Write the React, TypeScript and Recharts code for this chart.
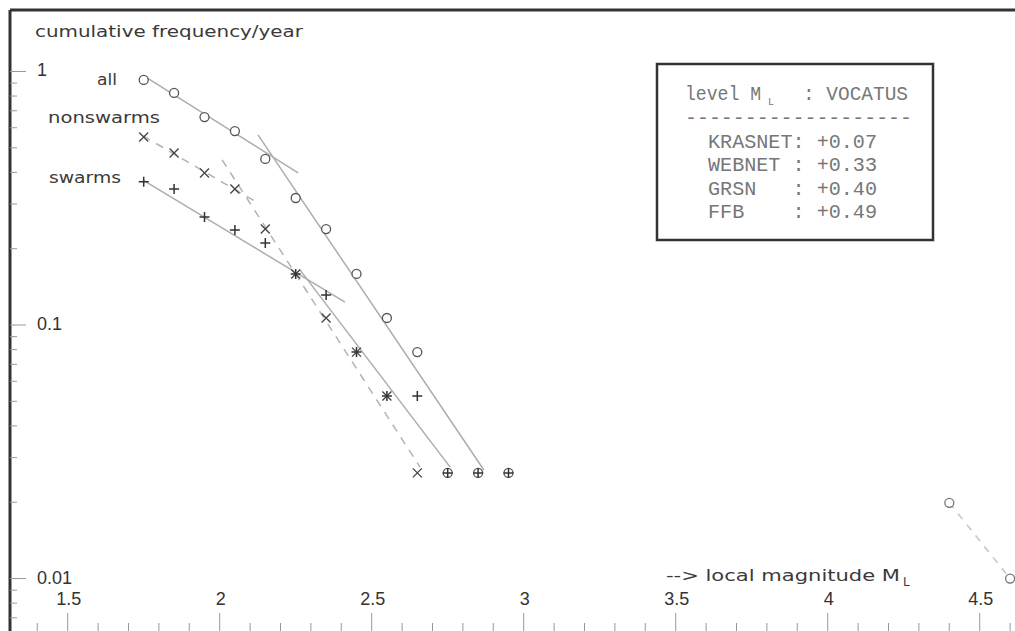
import React from 'react';
import { ScatterChart, Scatter, XAxis, YAxis, ReferenceLine } from 'recharts';

// magnitude classes (M_L) and cumulative frequency per year
const magnitudes = [1.75, 1.85, 1.95, 2.05, 2.15, 2.25, 2.35, 2.45, 2.55, 2.65, 2.75, 2.85, 2.95];
const allFreq = [0.926, 0.823, 0.661, 0.582, 0.452, 0.317, 0.239, 0.159, 0.1066, 0.0782, 0.0261, 0.0261, 0.0261];
const nonswarmFreq = [0.552, 0.477, 0.398, 0.344, 0.239, 0.159, 0.1066, 0.0782, 0.0525, 0.0261];
const swarmFreq = [0.367, 0.344, 0.267, 0.237, 0.2106, 0.159, 0.1313, 0.0782, 0.0525, 0.0525, 0.0261, 0.0261, 0.0261];

const strongMag = [4.4, 4.6];
const strongFreq = [0.0199, 0.01];

// fitted straight lines (end points)
const allFitLowMag = [1.761, 2.258];
const allFitLowFreq = [0.943, 0.398];
const allFitHighMag = [2.126, 2.869];
const allFitHighFreq = [0.562, 0.0268];
const swarmFitLowMag = [1.748, 2.412];
const swarmFitLowFreq = [0.373, 0.123];
const swarmFitHighMag = [2.264, 2.758];
const swarmFitHighFreq = [0.165, 0.0275];
const nonswarmFitLowMag = [1.748, 2.126];
const nonswarmFitLowFreq = [0.557, 0.303];
const nonswarmFitHighMag = [2.008, 2.659];
const nonswarmFitHighFreq = [0.448, 0.0275];

const xTicks = [1.4, 1.5, 1.6, 1.7, 1.8, 1.9, 2.0, 2.1, 2.2, 2.3, 2.4, 2.5, 2.6, 2.7, 2.8, 2.9, 3.0, 3.1, 3.2,
  3.3, 3.4, 3.5, 3.6, 3.7, 3.8, 3.9, 4.0, 4.1, 4.2, 4.3, 4.4, 4.5, 4.6];
const xMajor = [1.5, 2, 2.5, 3, 3.5, 4, 4.5];
const xMajorLabels = ['1.5', '2', '2.5', '3', '3.5', '4', '4.5'];

const yTicks = [0.007, 0.008, 0.009, 0.01, 0.02, 0.03, 0.04, 0.05, 0.06, 0.07, 0.08, 0.09,
  0.1, 0.2, 0.3, 0.4, 0.5, 0.6, 0.7, 0.8, 0.9, 1];
const yMajor = [0.01, 0.1, 1];
const yMajorLabels = ['0.01', '0.1', '1'];

const legendRows = ['KRASNET: +0.07', 'WEBNET : +0.33', 'GRSN   : +0.40', 'FFB    : +0.49'];

const X_MIN = 1.3102;
const X_MAX = 4.6161;
const Y_MIN = 0.00621;
const Y_MAX = 1.748;

const W = 1015;
const H = 631;

const pts = (xs: number[], ys: number[]) => ys.map((y, i) => ({ x: xs[i], y }));

const tickFont = '"Liberation Sans", Arial, sans-serif';
const labelFont = '"DejaVu Sans", sans-serif';
const monoFont = '"Liberation Mono", "DejaVu Sans Mono", monospace';

const Circle = ({ cx, cy, stroke = '#555' }: any) =>
  cx == null ? <g /> : <circle cx={cx} cy={cy} r={4.5} fill="#fff" stroke={stroke} strokeWidth={1.3} />;

const Cross = ({ cx, cy }: any) => {
  if (cx == null) return <g />;
  const s = 4.5;
  return (
    <path d={`M${cx - s},${cy - s}L${cx + s},${cy + s}M${cx - s},${cy + s}L${cx + s},${cy - s}`}
      stroke="#444" strokeWidth={1.3} fill="none" />
  );
};

const Plus = ({ cx, cy }: any) => {
  if (cx == null) return <g />;
  const s = 5;
  return (
    <path d={`M${cx - s},${cy}L${cx + s},${cy}M${cx},${cy - s}L${cx},${cy + s}`}
      stroke="#333" strokeWidth={1.5} fill="none" />
  );
};

const NoDot = () => <g />;

const tickText = { fontSize: '18px', fontFamily: tickFont, fill: '#333' };

const XTick = (props: any) => {
  const { x, y, payload } = props;
  const v = payload.value;
  const idx = xMajor.findIndex((m) => Math.abs(m - v) < 1e-6);
  const major = idx >= 0;
  return (
    <g>
      <line x1={x} x2={x} y1={y} y2={y - (major ? 18 : 8)} stroke="#999" strokeWidth={1} />
      {major && (
        <text x={x + 1} y={y - 26} textAnchor="middle" style={tickText}>
          {xMajorLabels[idx]}
        </text>
      )}
    </g>
  );
};

const YTick = (props: any) => {
  const { x, y, payload } = props;
  const v = payload.value;
  const idx = yMajor.findIndex((m) => Math.abs(m - v) < 1e-9);
  const major = idx >= 0;
  return (
    <g>
      <line x1={x} x2={x + (major ? 16 : 7)} y1={y} y2={y} stroke="#999" strokeWidth={1} />
      {major && (
        <text x={x + 27} y={y + 5} textAnchor="start" style={tickText}>
          {yMajorLabels[idx]}
        </text>
      )}
    </g>
  );
};

const fitLine = { stroke: '#adadad', strokeWidth: 1.5 };
const fitDashed = { stroke: '#b3b3b3', strokeWidth: 1.5, strokeDasharray: '8 7' };

export default function App() {
  return (
    <div style={{ position: 'absolute', left: 0, top: 0, width: W, height: H, background: '#fff', overflow: 'hidden' }}>
      <ScatterChart width={W} height={H + 1} margin={{ top: 10, right: 0, bottom: 0, left: 9 }}>
        <XAxis
          type="number"
          dataKey="x"
          domain={[X_MIN, X_MAX]}
          allowDataOverflow
          ticks={xTicks}
          interval={0}
          height={1}
          tickSize={0}
          tickMargin={0}
          axisLine={false}
          tickLine={false}
          tick={(p: any) => <XTick {...p} />}
        />
        <YAxis
          type="number"
          dataKey="y"
          scale="log"
          domain={[Y_MIN, Y_MAX]}
          allowDataOverflow
          ticks={yTicks}
          interval={0}
          width={1}
          tickSize={0}
          tickMargin={0}
          axisLine={{ stroke: '#333', strokeWidth: 3 }}
          tickLine={false}
          tick={(p: any) => <YTick {...p} />}
        />
        <ReferenceLine y={Y_MAX} stroke="#333" strokeWidth={3} />

        <Scatter data={pts(allFitLowMag, allFitLowFreq)} line={fitLine} shape={NoDot} isAnimationActive={false} />
        <Scatter data={pts(allFitHighMag, allFitHighFreq)} line={fitLine} shape={NoDot} isAnimationActive={false} />
        <Scatter data={pts(swarmFitLowMag, swarmFitLowFreq)} line={fitLine} shape={NoDot} isAnimationActive={false} />
        <Scatter data={pts(swarmFitHighMag, swarmFitHighFreq)} line={fitLine} shape={NoDot} isAnimationActive={false} />
        <Scatter data={pts(nonswarmFitLowMag, nonswarmFitLowFreq)} line={fitDashed} shape={NoDot} isAnimationActive={false} />
        <Scatter data={pts(nonswarmFitHighMag, nonswarmFitHighFreq)} line={fitDashed} shape={NoDot} isAnimationActive={false} />
        <Scatter
          data={pts(strongMag, strongFreq)}
          line={{ stroke: '#c4c4c4', strokeWidth: 1.5, strokeDasharray: '7 7' }}
          shape={(p: any) => <Circle {...p} stroke="#777" />}
          isAnimationActive={false}
        />

        <Scatter data={pts(magnitudes, allFreq)} shape={Circle} isAnimationActive={false} />
        <Scatter data={pts(magnitudes, nonswarmFreq)} shape={Cross} isAnimationActive={false} />
        <Scatter data={pts(magnitudes, swarmFreq)} shape={Plus} isAnimationActive={false} />
      </ScatterChart>

      <svg width={W} height={H} style={{ position: 'absolute', left: 0, top: 0, pointerEvents: 'none' }}>
        <text x={35} y={37} fontSize={15} fontFamily={labelFont} fill="#3a3a3a" textLength={268} lengthAdjust="spacingAndGlyphs">
          cumulative frequency/year
        </text>
        <text x={97} y={85} fontSize={15} fontFamily={labelFont} fill="#3a3a3a" textLength={20} lengthAdjust="spacingAndGlyphs">
          all
        </text>
        <text x={48} y={123} fontSize={15} fontFamily={labelFont} fill="#3a3a3a" textLength={112} lengthAdjust="spacingAndGlyphs">
          nonswarms
        </text>
        <text x={49} y={183} fontSize={15} fontFamily={labelFont} fill="#3a3a3a" textLength={72} lengthAdjust="spacingAndGlyphs">
          swarms
        </text>
        <text x={666} y={581} fontSize={16} fontFamily={labelFont} fill="#3a3a3a" textLength={234} lengthAdjust="spacingAndGlyphs">
          --&gt; local magnitude M
        </text>
        <text x={903} y={586} fontSize={12} fontFamily={labelFont} fill="#3a3a3a">
          L
        </text>

        <rect x={657} y={64} width={276} height={176} fill="#fff" stroke="#333" strokeWidth={2.5} />
        <text x={685} y={100} fontSize={20} fontFamily={monoFont} fill="#777" textLength={76} lengthAdjust="spacingAndGlyphs">
          level M
        </text>
        <text x={768} y={105} fontSize={10} fontFamily={monoFont} fill="#777">
          L
        </text>
        <text x={803} y={100} fontSize={20} fontFamily={monoFont} fill="#777" textLength={105} lengthAdjust="spacingAndGlyphs">
          : VOCATUS
        </text>
        <text x={685} y={124} fontSize={20} fontFamily={monoFont} fill="#777" textLength={227} lengthAdjust="spacingAndGlyphs">
          -------------------
        </text>
        {legendRows.map((row, i) => (
          <text key={row} x={708} y={148 + i * 23.4} fontSize={20} fontFamily={monoFont} fill="#777"
            textLength={169} lengthAdjust="spacingAndGlyphs" style={{ whiteSpace: 'pre' }}>
            {row}
          </text>
        ))}
      </svg>
    </div>
  );
}
